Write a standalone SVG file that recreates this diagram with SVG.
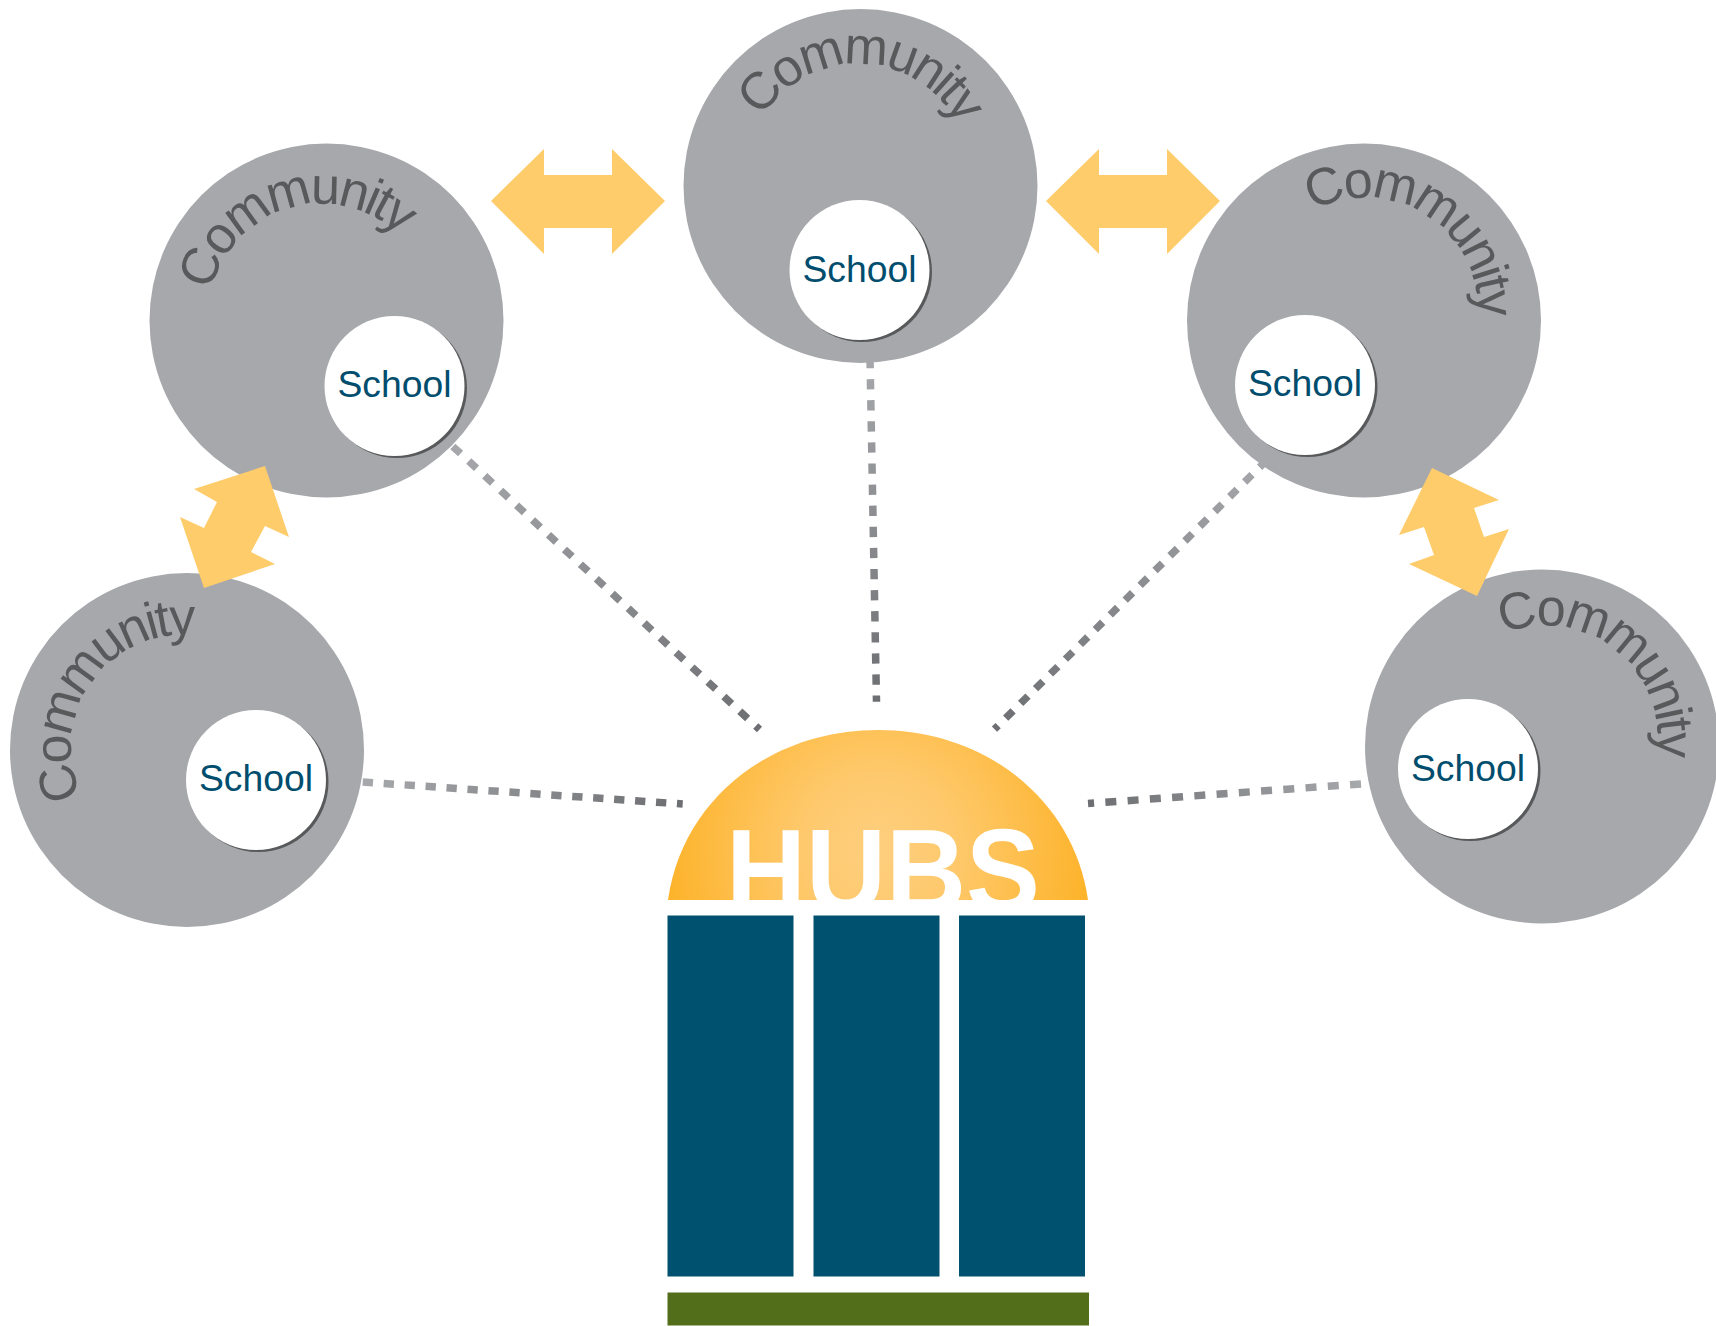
<svg xmlns="http://www.w3.org/2000/svg" xmlns:xlink="http://www.w3.org/1999/xlink" width="1716" height="1326" viewBox="0 0 1716 1326">
<style>
.comm{fill:#a7a8ac}
.sch{fill:#fff}
.shd{fill:#58595b}
.ct{font-family:"Liberation Sans",Arial,sans-serif;font-size:52px;letter-spacing:-3px;fill:#58595b;text-anchor:middle}
.st{font-family:"Liberation Sans",Arial,sans-serif;font-size:37.3px;fill:#004d6e;text-anchor:middle}
.dash{fill:none;stroke-width:7.5}
.arr{fill:#fecc6b}
.col{fill:#00506f}
</style>
<defs>
<radialGradient id="dome" gradientUnits="userSpaceOnUse" cx="878" cy="850" r="215"><stop offset="0" stop-color="#fecf7f"/><stop offset="0.35" stop-color="#fec96d"/><stop offset="1" stop-color="#fdb32a"/></radialGradient>
<linearGradient id="g1" gradientUnits="userSpaceOnUse" x1="870" y1="358" x2="876.5" y2="701.7"><stop offset="0" stop-color="#a7a8ac"/><stop offset="1" stop-color="#6d6e71"/></linearGradient>
<linearGradient id="g2" gradientUnits="userSpaceOnUse" x1="452.8" y1="446.4" x2="759.5" y2="729.5"><stop offset="0" stop-color="#a7a8ac"/><stop offset="1" stop-color="#6d6e71"/></linearGradient>
<linearGradient id="g3" gradientUnits="userSpaceOnUse" x1="1267" y1="459.9" x2="994.5" y2="729.2"><stop offset="0" stop-color="#a7a8ac"/><stop offset="1" stop-color="#6d6e71"/></linearGradient>
<linearGradient id="g4" gradientUnits="userSpaceOnUse" x1="362.7" y1="782" x2="682.7" y2="804"><stop offset="0" stop-color="#a7a8ac"/><stop offset="1" stop-color="#6d6e71"/></linearGradient>
<linearGradient id="g5" gradientUnits="userSpaceOnUse" x1="1361" y1="783.9" x2="1088" y2="803.5"><stop offset="0" stop-color="#a7a8ac"/><stop offset="1" stop-color="#6d6e71"/></linearGradient>
<path id="p1" d="M212 346A113 113 0 0 1 428 280"/>
<path id="p2" d="M745 174A113 113 0 0 1 971 180"/>
<path id="p3" d="M1270.2 249.1A113 113 0 0 1 1461.8 368.9"/>
<path id="p4" d="M116 838A113 113 0 0 1 244 652"/>
<path id="p5" d="M1457 667.4A113 113 0 0 1 1635 806.6"/>
</defs>
<g id="connectors-dotted">
<path class="dash" stroke="url(#g1)" stroke-dasharray="10.3 10.8" d="M870 358L876.5 701.7"/>
<path class="dash" stroke="url(#g2)" stroke-dasharray="10.6 11.1" d="M452.8 446.4L759.5 729.5"/>
<path class="dash" stroke="url(#g3)" stroke-dasharray="10.4 10.6" d="M1267 459.9L994.5 729.2"/>
<path class="dash" stroke="url(#g4)" stroke-dasharray="10.3 10.7" d="M362.7 782L682.7 804"/>
<path class="dash" stroke="url(#g5)" stroke-dasharray="11 11.3" d="M1361 783.9L1088 803.5"/>
</g>
<g id="community-left"><circle class="comm" cx="326.5" cy="320.5" r="177"/><text class="ct"><textPath href="#p1" startOffset="50%">Community</textPath></text></g>
<g id="school-left"><circle class="shd" cx="397" cy="388" r="70"/><circle class="sch" cx="394.5" cy="386" r="70"/><text class="st" x="394.5" y="397">School</text></g>
<g id="community-top"><circle class="comm" cx="860.5" cy="186" r="177"/><text class="ct"><textPath href="#p2" startOffset="50%">Community</textPath></text></g>
<g id="school-top"><circle class="shd" cx="862" cy="272" r="70"/><circle class="sch" cx="859.5" cy="270" r="70"/><text class="st" x="859.5" y="282">School</text></g>
<g id="community-right"><circle class="comm" cx="1364" cy="320.5" r="177"/><text class="ct"><textPath href="#p3" startOffset="50%">Community</textPath></text></g>
<g id="school-right"><circle class="shd" cx="1307.5" cy="387" r="70"/><circle class="sch" cx="1305" cy="385" r="70"/><text class="st" x="1305" y="396">School</text></g>
<g id="community-far-left"><circle class="comm" cx="187" cy="750" r="177"/><text class="ct"><textPath href="#p4" startOffset="50%">Community</textPath></text></g>
<g id="school-far-left"><circle class="shd" cx="258.5" cy="782" r="70"/><circle class="sch" cx="256" cy="780" r="70"/><text class="st" x="256" y="791">School</text></g>
<g id="community-far-right"><circle class="comm" cx="1542" cy="746.5" r="177"/><text class="ct"><textPath href="#p5" startOffset="50%">Community</textPath></text></g>
<g id="school-far-right"><circle class="shd" cx="1470.5" cy="771" r="70"/><circle class="sch" cx="1468" cy="769" r="70"/><text class="st" x="1468" y="781">School</text></g>
<g id="connectors-arrows">
<polygon class="arr" points="491,201 544,149 544,175 612,175 612,149 665,201 612,254 612,228 544,228 544,254"/>
<polygon class="arr" points="1046,201 1099,149 1099,175 1167,175 1167,149 1220,201 1167,254 1167,228 1099,228 1099,254"/>
<polygon class="arr" points="265,466 289,537 265,526 251,552 275,564 204,588 180,517 204,528 217,502 194,489"/>
<polygon class="arr" points="1432,468 1499,500 1474,508 1484,537 1509,529 1477,596 1409,564 1434,555 1424,527 1399,535"/>
</g>
<g id="hubs">
<path d="M668 900C682 800 770 730 878 730C986 730 1074 800 1088 900Z" fill="url(#dome)"/>
<text x="883" y="912" font-family="'Liberation Sans',Arial,sans-serif" font-weight="700" font-size="118" fill="#fff" text-anchor="middle" textLength="314" lengthAdjust="spacingAndGlyphs">HUBS</text>
<rect x="660" y="900" width="440" height="15" fill="#fff"/>
<rect class="col" x="667.5" y="915.5" width="126" height="361"/>
<rect class="col" x="813.5" y="915.5" width="126" height="361"/>
<rect class="col" x="959" y="915.5" width="126" height="361"/>
<rect x="667.5" y="1292.5" width="421.5" height="33" fill="#526e1a"/>
</g>
</svg>
